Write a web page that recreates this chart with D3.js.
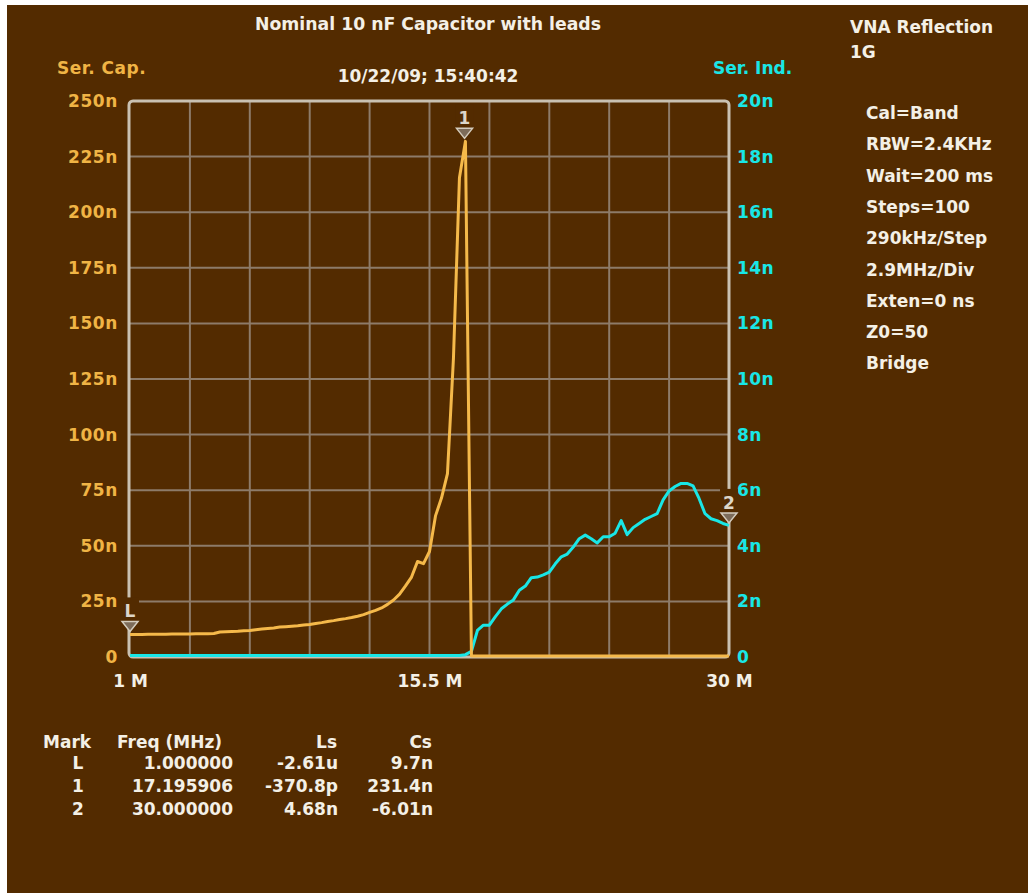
<!DOCTYPE html>
<html>
<head>
<meta charset="utf-8">
<script src="https://cdn.jsdelivr.net/npm/d3@7"></script>
<style>
  html, body { margin: 0; padding: 0; background: #ffffff; }
  svg { display: block; }
  text { font-family: "DejaVu Sans", sans-serif; font-weight: bold; }
</style>
</head>
<body>
<svg id="chart" width="1028" height="893"></svg>
<script>
// ---------------- data ----------------
const freqMHz = [
  1.00, 1.29, 1.58, 1.87, 2.16, 2.45, 2.74, 3.03, 3.32, 3.61,
  3.90, 4.19, 4.48, 4.77, 5.06, 5.35, 5.64, 5.93, 6.22, 6.51,
  6.80, 7.09, 7.38, 7.67, 7.96, 8.25, 8.54, 8.83, 9.12, 9.41,
  9.70, 9.99, 10.28, 10.57, 10.86, 11.15, 11.44, 11.73, 12.02, 12.31,
  12.60, 12.89, 13.18, 13.47, 13.76, 14.05, 14.34, 14.63, 14.92, 15.21,
  15.50, 15.79, 16.08, 16.37, 16.66, 16.95, 17.24, 17.53, 17.82, 18.11,
  18.40, 18.69, 18.98, 19.27, 19.56, 19.85, 20.14, 20.43, 20.72, 21.01,
  21.30, 21.59, 21.88, 22.17, 22.46, 22.75, 23.04, 23.33, 23.62, 23.91,
  24.20, 24.49, 24.78, 25.07, 25.36, 25.65, 25.94, 26.23, 26.52, 26.81,
  27.10, 27.39, 27.68, 27.97, 28.26, 28.55, 28.84, 29.13, 29.42, 29.71,
  30.00
];
// Series capacitance (nF), clipped at 0 by the display
const serCap = [
  9.7, 9.7, 9.7, 9.8, 9.8, 9.8, 9.8, 9.9, 9.9, 9.9,
  9.9, 10.0, 10.0, 10.0, 10.1, 10.8, 10.9, 11.0, 11.1, 11.3,
  11.5, 11.8, 12.1, 12.4, 12.6, 13.0, 13.2, 13.4, 13.6, 13.9,
  14.2, 14.6, 15.0, 15.5, 15.9, 16.4, 16.8, 17.3, 17.9, 18.6,
  19.6, 20.5, 21.6, 23.2, 25.2, 27.8, 31.5, 35.5, 42.5, 41.5,
  47.0, 63.0, 71.0, 82.0, 134.0, 215.0, 231.4, 0, 0, 0,
  0, 0, 0, 0, 0, 0, 0, 0, 0, 0,
  0, 0, 0, 0, 0, 0, 0, 0, 0, 0,
  0, 0, 0, 0, 0, 0, 0, 0, 0, 0,
  0, 0, 0, 0, 0, 0, 0, 0, 0, 0,
  0
];
// Series inductance (nH), clipped at 0 by the display
const serInd = [
  0, 0, 0, 0, 0, 0, 0, 0, 0, 0,
  0, 0, 0, 0, 0, 0, 0, 0, 0, 0,
  0, 0, 0, 0, 0, 0, 0, 0, 0, 0,
  0, 0, 0, 0, 0, 0, 0, 0, 0, 0,
  0, 0, 0, 0, 0, 0, 0, 0, 0, 0,
  0, 0, 0, 0, 0, 0, 0.03, 0.15, 0.9, 1.09,
  1.09, 1.4, 1.68, 1.85, 2.0, 2.35, 2.5, 2.8, 2.82, 2.9,
  3.0, 3.3, 3.55, 3.65, 3.9, 4.2, 4.33, 4.2, 4.05, 4.27,
  4.27, 4.4, 4.85, 4.35, 4.6, 4.75, 4.9, 5.0, 5.1, 5.6,
  5.92, 6.08, 6.19, 6.19, 6.1, 5.65, 5.1, 4.92, 4.85, 4.75,
  4.68
];
const capTicks = [0, 25, 50, 75, 100, 125, 150, 175, 200, 225, 250];
const capTickLabels = ["0", "25n", "50n", "75n", "100n", "125n", "150n", "175n", "200n", "225n", "250n"];
const indTicks = [0, 2, 4, 6, 8, 10, 12, 14, 16, 18, 20];
const indTickLabels = ["0", "2n", "4n", "6n", "8n", "10n", "12n", "14n", "16n", "18n", "20n"];
const freqGrid = [1, 3.9, 6.8, 9.7, 12.6, 15.5, 18.4, 21.3, 24.2, 27.1, 30];
const freqTicks = [1, 15.5, 30];
const freqTickLabels = ["1 M", "15.5 M", "30 M"];

const markerNames = ["L", "1", "2"];
const markerFreq = [1.0, 17.195906, 30.0];
const markerTrace = ["cap", "cap", "ind"];
const markerValue = [9.7, 231.4, 4.68];
const tableHeader = ["Mark", "Freq (MHz)", "Ls", "Cs"];
const tableFreq = ["1.000000", "17.195906", "30.000000"];
const tableLs = ["-2.61u", "-370.8p", "4.68n"];
const tableCs = ["9.7n", "231.4n", "-6.01n"];

const titleText = "Nominal 10 nF Capacitor with leads";
const dateText = "10/22/09; 15:40:42";
const leftAxisTitle = "Ser. Cap.";
const rightAxisTitle = "Ser. Ind.";
const modeLines = ["VNA Reflection", "1G"];
const settingLines = ["Cal=Band", "RBW=2.4KHz", "Wait=200 ms", "Steps=100", "290kHz/Step",
                      "2.9MHz/Div", "Exten=0 ns", "Z0=50", "Bridge"];

// ---------------- style ----------------
const BG = "#532b00";
const FRAME = "#c9c1b2";
const GRID = "#8d7b69";
const ORANGE = "#f5b94a";
const ORANGE_TXT = "#f0b445";
const CYAN = "#19e6e6";
const WHITE = "#f4f0e6";

const svg = d3.select("#chart");
svg.append("rect").attr("x", 7).attr("y", 5).attr("width", 1021).attr("height", 888).attr("fill", BG);

const plot = { left: 130, right: 729, top: 101, bottom: 657 };
const x = d3.scaleLinear().domain([1, 30]).range([plot.left, plot.right]);
const yC = d3.scaleLinear().domain([0, 250]).range([plot.bottom, plot.top]);
const yL = d3.scaleLinear().domain([0, 20]).range([plot.bottom, plot.top]);

// grid
const grid = svg.append("g");
grid.selectAll("line.v").data(freqGrid.slice(1, -1)).join("line")
  .attr("x1", d => x(d)).attr("x2", d => x(d))
  .attr("y1", plot.top).attr("y2", plot.bottom)
  .attr("stroke", GRID).attr("stroke-width", 2);
grid.selectAll("line.h").data(capTicks.slice(1, -1)).join("line")
  .attr("x1", plot.left).attr("x2", plot.right)
  .attr("y1", d => yC(d)).attr("y2", d => yC(d))
  .attr("stroke", GRID).attr("stroke-width", 2);

// frame
svg.append("rect")
  .attr("x", plot.left - 1).attr("y", plot.top)
  .attr("width", plot.right - plot.left + 1).attr("height", plot.bottom - plot.top)
  .attr("rx", 4).attr("fill", "none").attr("stroke", FRAME).attr("stroke-width", 3);

// axes (text only)
const axisFont = g => {
  g.select(".domain").remove();
  g.selectAll(".tick line").remove();
  g.selectAll("text").attr("font-size", 17)
    .style("font-family", "'DejaVu Sans',sans-serif")
    .style("font-weight", "bold");
};
svg.append("g").attr("transform", `translate(${plot.left},0)`)
  .call(d3.axisLeft(yC).tickValues(capTicks).tickSize(0).tickPadding(12)
    .tickFormat((d, i) => capTickLabels[i]))
  .call(axisFont)
  .selectAll("text").attr("fill", ORANGE_TXT).style("letter-spacing", "0.6px");
svg.append("g").attr("transform", `translate(${plot.right},0)`)
  .call(d3.axisRight(yL).tickValues(indTicks).tickSize(0).tickPadding(8)
    .tickFormat((d, i) => indTickLabels[i]))
  .call(axisFont)
  .selectAll("text").attr("fill", CYAN).style("letter-spacing", "0.4px");
svg.append("g").attr("transform", `translate(0,${plot.bottom})`)
  .call(d3.axisBottom(x).tickValues(freqTicks).tickSize(0).tickPadding(18)
    .tickFormat((d, i) => freqTickLabels[i]))
  .call(axisFont)
  .selectAll("text").attr("fill", WHITE);

// traces
const capLine = d3.line().x((d, i) => x(freqMHz[i])).y(d => yC(d) - 1);
const indLine = d3.line().x((d, i) => x(freqMHz[i])).y(d => yL(d) - 1.5);
svg.append("path").datum(serInd).attr("d", indLine)
  .attr("fill", "none").attr("stroke", CYAN).attr("stroke-width", 3).attr("stroke-linejoin", "round");
svg.append("path").datum(serCap).attr("d", capLine)
  .attr("fill", "none").attr("stroke", ORANGE).attr("stroke-width", 3).attr("stroke-linejoin", "round");

// markers
markerNames.forEach((m, i) => {
  const px = x(markerFreq[i]);
  const py = (markerTrace[i] === "cap" ? yC(markerValue[i]) : yL(markerValue[i])) - 4;
  const g = svg.append("g");
  g.append("rect").attr("x", px - 9).attr("y", py - 34).attr("width", 18).attr("height", 24)
    .attr("fill", BG);
  g.append("path")
    .attr("d", `M${px - 8},${py - 10} L${px + 8},${py - 10} L${px},${py} Z`)
    .attr("fill", "#7d6c5a").attr("stroke", "#d4ccbd").attr("stroke-width", 1.5);
  g.append("text").attr("x", px).attr("y", py - 14)
    .attr("text-anchor", "middle").attr("font-size", 17).attr("fill", "#ddd6c8")
    .text(m);
});

// titles
svg.append("text").attr("x", 428).attr("y", 30).attr("text-anchor", "middle")
  .attr("font-size", 17.3).attr("fill", WHITE).text(titleText);
svg.append("text").attr("x", 428).attr("y", 82).attr("text-anchor", "middle")
  .attr("font-size", 17).attr("fill", WHITE).text(dateText);
svg.append("text").attr("x", 57).attr("y", 74).style("letter-spacing", "0.5px")
  .attr("font-size", 17).attr("fill", ORANGE_TXT).text(leftAxisTitle);
svg.append("text").attr("x", 713).attr("y", 74)
  .attr("font-size", 17).attr("fill", CYAN).text(rightAxisTitle);

// right panel
svg.selectAll("text.mode").data(modeLines).join("text")
  .attr("x", 850).attr("y", (d, i) => 33 + i * 25)
  .attr("font-size", 17).attr("fill", WHITE).text(d => d);
svg.selectAll("text.set").data(settingLines).join("text")
  .attr("x", 866).attr("y", (d, i) => 119 + i * 31.3)
  .attr("font-size", 17).attr("fill", WHITE).text(d => d);

// marker table
svg.selectAll("text.hdr").data(tableHeader).join("text")
  .attr("x", (d, i) => [43, 117, 337, 432][i])
  .attr("y", 748)
  .attr("text-anchor", (d, i) => i < 2 ? "start" : "end")
  .attr("font-size", 17).attr("fill", WHITE).text(d => d);
markerNames.forEach((m, r) => {
  const yy = 769 + r * 23;
  const row = [m, tableFreq[r], tableLs[r], tableCs[r]];
  const xs = [78, 233, 338, 433];
  row.forEach((t, c) => {
    svg.append("text").attr("x", xs[c]).attr("y", yy)
      .attr("text-anchor", c === 0 ? "middle" : "end")
      .attr("font-size", 17).attr("fill", WHITE).text(t);
  });
});
</script>
</body>
</html>
